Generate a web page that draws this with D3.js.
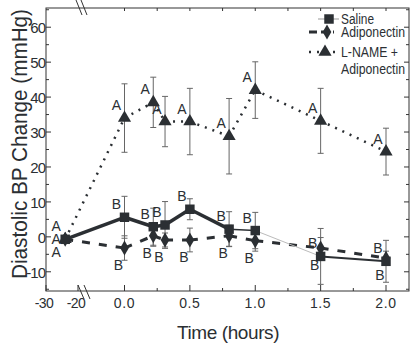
<!DOCTYPE html>
<html>
<head>
<meta charset="utf-8">
<script src="https://cdn.jsdelivr.net/npm/d3@7"></script>
<style>
  body { margin: 0; background: #fff; }
  svg { display: block; }
  text { font-family: "Liberation Sans", Arial, sans-serif; fill: #2b2f33; }
</style>
</head>
<body>
<svg id="chart" width="412" height="352"></svg>
<script>
// time: first point is the baseline in minutes (-24), the rest in hours
const preTime = -24;
const hours = [0, 0.22, 0.31, 0.5, 0.8, 1.0, 1.5, 2.0];

const saline = [-0.7, 5.6, 2.9, 3.4, 7.9, 2.2, 1.8, -5.6, -7.0];
const salineErr = [0, 6, 5.3, 6.7, 3, 5, 5.2, 8, 6];
const salineLetters = ['A', 'B', 'B', 'B', 'B', 'B', 'B', 'B', 'B'];

const adipo = [-0.7, -3.2, 0.3, -0.9, -0.9, 0.3, -1.1, -3.2, -6.1];
const adipoErr = [0, 3.5, 3, 2, 3.4, 3, 3, 3, 2];
const adipoLetters = ['A', 'B', 'B', 'B', 'B', 'B', 'B', 'B', 'B'];

const lname = [-0.7, 34, 38.5, 33, 33, 28.8, 42, 33.2, 24.4];
const lnameErr = [0, 9.8, 7.2, 7.2, 9.5, 10.8, 8.1, 9.3, 6.7];
const lnameLetters = ['A', 'A', 'A', 'A', 'A', 'A', 'A', 'A', 'A'];

const yTicks = [60, 50, 40, 30, 20, 10, 0, -10];
const preTicks = [-30, -20];
const hourTicks = [0, 0.5, 1.0, 1.5, 2.0];
const legendNames = ['Saline', 'Adiponectin', 'L-NAME +', 'Adiponectin'];

const dark = '#2b2f33';
const svg = d3.select('#chart');

const plotLeft = 46, plotRight = 409, plotTop = 8, plotBottom = 291;

const xPre = d3.scaleLinear().domain([-30, -20]).range([46, 78]);
const xMain = d3.scaleLinear().domain([0, 2]).range([124.5, 386]);
const y = d3.scaleLinear().domain([-15.5, 65.5]).range([plotBottom, plotTop]);

const xAt = i => i === 0 ? xPre(preTime) : xMain(hours[i - 1]);

// frame
svg.append('rect')
    .attr('x', plotLeft).attr('y', plotTop)
    .attr('width', plotRight - plotLeft).attr('height', plotBottom - plotTop)
    .attr('fill', 'none').attr('stroke', '#333').attr('stroke-width', 1);

// y ticks, left and right, pointing inward
const yMinor = d3.range(-15, 66, 5);
[plotLeft, plotRight].forEach((x0, side) => {
    const dir = side === 0 ? 1 : -1;
    svg.append('g').selectAll('line')
        .data(yMinor)
        .join('line')
        .attr('x1', x0).attr('x2', d => x0 + dir * (d % 10 === 0 ? 5 : 3))
        .attr('y1', d => y(d)).attr('y2', d => y(d))
        .attr('stroke', '#333');
});

svg.append('g').selectAll('text')
    .data(yTicks)
    .join('text')
    .attr('x', 45)
    .attr('y', d => y(d) + 6)
    .attr('text-anchor', 'end')
    .attr('font-size', 15)
    .attr('letter-spacing', -1)
    .text(d => d);

// x ticks
const hourMinor = d3.range(0, 2.26, 0.25);
svg.append('g').selectAll('line')
    .data(hourMinor)
    .join('line')
    .attr('x1', d => xMain(d)).attr('x2', d => xMain(d))
    .attr('y1', plotBottom).attr('y2', d => plotBottom - (Math.abs(d * 2 - Math.round(d * 2)) < 1e-6 ? 6 : 3))
    .attr('stroke', '#333');
svg.append('g').selectAll('line')
    .data(hourMinor)
    .join('line')
    .attr('x1', d => xMain(d)).attr('x2', d => xMain(d))
    .attr('y1', plotTop).attr('y2', plotTop + 3)
    .attr('stroke', '#333');
svg.append('g').selectAll('line')
    .data(preTicks)
    .join('line')
    .attr('x1', d => xPre(d)).attr('x2', d => xPre(d))
    .attr('y1', plotBottom).attr('y2', plotBottom - 6)
    .attr('stroke', '#333');

svg.append('g').selectAll('text')
    .data(hourTicks)
    .join('text')
    .attr('x', d => xMain(d))
    .attr('y', 308)
    .attr('text-anchor', 'middle')
    .attr('font-size', 14)
    .attr('letter-spacing', 0.6)
    .text(d => d.toFixed(1));
svg.append('g').selectAll('text')
    .data(preTicks)
    .join('text')
    .attr('x', d => xPre(d) - 2)
    .attr('y', 308)
    .attr('text-anchor', 'middle')
    .attr('font-size', 14)
    .attr('letter-spacing', -0.6)
    .text(d => d);

// axis breaks
const brk = [[[76, 0], [82, 15]], [[81, 0], [87, 15]], [[78, 285], [84, 299]], [[84, 285], [90, 299]]];
svg.append('g').selectAll('path')
    .data(brk)
    .join('path')
    .attr('d', d => d3.line()(d))
    .attr('stroke', '#333').attr('stroke-width', 1);

// titles
svg.append('text')
    .attr('transform', 'translate(27,144) rotate(-90)')
    .attr('text-anchor', 'middle')
    .attr('font-size', 22)
    .attr('textLength', 270)
    .attr('lengthAdjust', 'spacingAndGlyphs')
    .attr('fill', '#333')
    .text('Diastolic BP Change (mmHg)');
svg.append('text')
    .attr('x', 228).attr('y', 339)
    .attr('text-anchor', 'middle')
    .attr('font-size', 19)
    .attr('letter-spacing', -0.4)
    .text('Time (hours)');

// series
const series = [
    { vals: lname, err: lnameErr, letters: lnameLetters, shape: d3.symbolTriangle, size: 75, dash: '2,6', width: 2.5, dx: -8, dy: -13, first: -13 },
    { vals: adipo, err: adipoErr, letters: adipoLetters, shape: d3.symbolDiamond, size: 65, dash: '8,9', width: 3, dx: -6, dy: 17, first: 13 },
    { vals: saline, err: salineErr, letters: salineLetters, shape: d3.symbolSquare, size: 90, dash: null, width: 3.5, dx: -8, dy: -13, first: 0 }
];

// error bars first
series.forEach(s => {
    const g = svg.append('g');
    const rows = s.vals.map((v, i) => ({ x: xAt(i), v: v, e: s.err[i] })).filter(d => d.e > 0);
    g.selectAll('line.stem').data(rows).join('line')
        .attr('x1', d => d.x).attr('x2', d => d.x)
        .attr('y1', d => y(d.v + d.e)).attr('y2', d => y(d.v - d.e))
        .attr('stroke', '#666').attr('stroke-width', 1);
    g.selectAll('line.capT').data(rows).join('line')
        .attr('x1', d => d.x - 3).attr('x2', d => d.x + 3)
        .attr('y1', d => y(d.v + d.e)).attr('y2', d => y(d.v + d.e))
        .attr('stroke', '#666');
    g.selectAll('line.capB').data(rows).join('line')
        .attr('x1', d => d.x - 3).attr('x2', d => d.x + 3)
        .attr('y1', d => y(d.v - d.e)).attr('y2', d => y(d.v - d.e))
        .attr('stroke', '#666');
});

// lines
series.forEach((s, k) => {
    const segs = d3.pairs(s.vals.map((v, i) => [xAt(i), y(v)]));
    svg.append('g').selectAll('path')
        .data(segs)
        .join('path')
        .attr('d', d => d3.line()(d))
        .attr('fill', 'none')
        .attr('stroke', (d, i) => (k === 2 && i === 6) ? '#bbb' : dark)
        .attr('stroke-width', (d, i) => {
            if (k !== 2) return s.width;
            if (i === 5) return 1.5;
            if (i === 6) return 1;
            if (i === 7) return 2;
            return s.width;
        })
        .attr('stroke-dasharray', s.dash);
});

// markers and letters
series.forEach(s => {
    svg.append('g').selectAll('path')
        .data(s.vals)
        .join('path')
        .attr('transform', (d, i) => `translate(${xAt(i)},${y(d)})`)
        .attr('d', d3.symbol().type(s.shape).size(s.size))
        .attr('fill', dark);
    svg.append('g').selectAll('text')
        .data(s.vals)
        .join('text')
        .attr('x', (d, i) => xAt(i) + (i === 0 ? -9 : s.dx))
        .attr('y', (d, i) => y(d) + (i === 0 ? s.first : s.dy) + 5)
        .attr('text-anchor', 'middle')
        .attr('font-size', 14)
        .attr('fill', '#333')
        .text((d, i) => s.letters[i]);
});

// legend
const leg = svg.append('g');
const legY = [19, 32, 52, 69];
const legW = [33, 64, 57, 64];
leg.append('line').attr('x1', 318).attr('x2', 339).attr('y1', legY[0]).attr('y2', legY[0])
    .attr('stroke', '#999').attr('stroke-width', 1);
leg.append('path').attr('transform', `translate(329,${legY[0]})`)
    .attr('d', d3.symbol().type(d3.symbolSquare).size(90)).attr('fill', dark);
leg.append('line').attr('x1', 309).attr('x2', 334).attr('y1', legY[1]).attr('y2', legY[1])
    .attr('stroke', dark).attr('stroke-width', 3).attr('stroke-dasharray', '8,4');
leg.append('path').attr('transform', `translate(327,${legY[1]})`)
    .attr('d', d3.symbol().type(d3.symbolDiamond).size(65)).attr('fill', dark);
leg.append('line').attr('x1', 309).attr('x2', 338).attr('y1', legY[2]).attr('y2', legY[2])
    .attr('stroke', dark).attr('stroke-width', 2.5).attr('stroke-dasharray', '2,6');
leg.append('path').attr('transform', `translate(325,${legY[2]})`)
    .attr('d', d3.symbol().type(d3.symbolTriangle).size(75)).attr('fill', dark);
leg.selectAll('text')
    .data(legendNames)
    .join('text')
    .attr('x', 341)
    .attr('y', (d, i) => legY[i] + 5)
    .attr('font-size', 14)
    .attr('textLength', (d, i) => legW[i])
    .attr('lengthAdjust', 'spacingAndGlyphs')
    .text(d => d);
</script>
</body>
</html>
